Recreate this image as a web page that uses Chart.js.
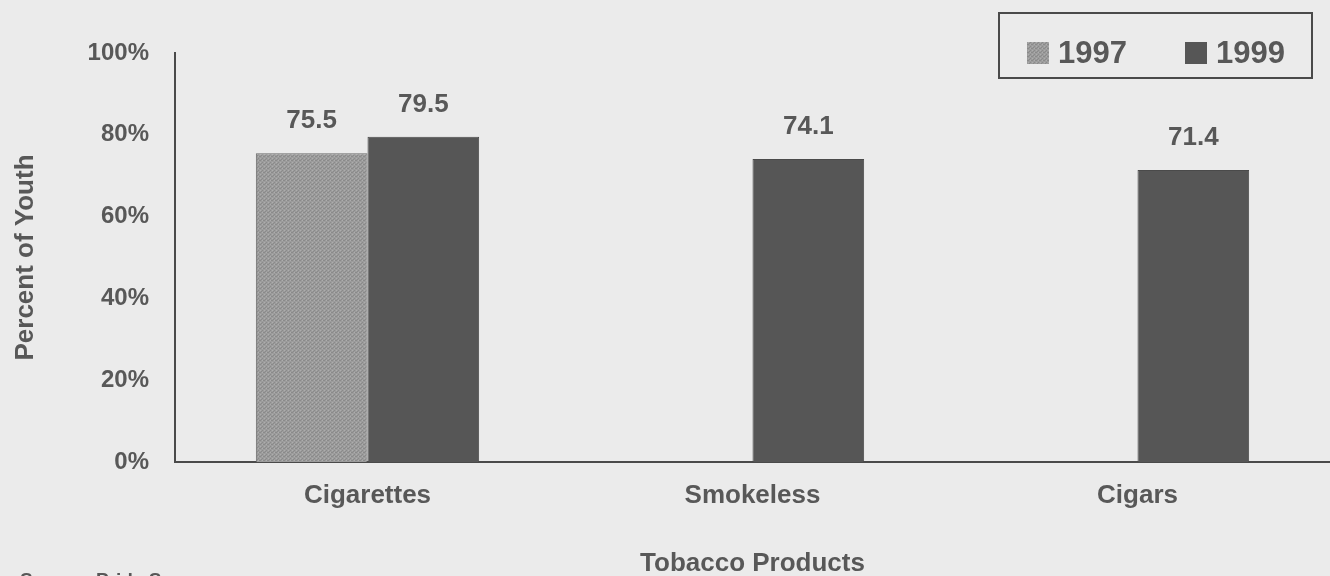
<!DOCTYPE html>
<html>
<head>
<meta charset="utf-8">
<script src="https://cdn.jsdelivr.net/npm/chart.js@4.4.1/dist/chart.umd.min.js"></script>
<style>
  html, body { margin: 0; padding: 0; background: #ebebeb; }
  #wrap { width: 1330px; height: 576px; position: relative; }
</style>
</head>
<body>
<div id="wrap"><canvas id="grafica" width="1330" height="576"></canvas></div>
<script>
// datos
const categorias = ['Cigarettes', 'Smokeless', 'Cigars'];
const valores1997 = [75.5, null, null];
const valores1999 = [79.5, 74.1, 71.4];
const etiquetasY = ['0%', '20%', '40%', '60%', '80%', '100%'];

const fuente = "'Liberation Sans', Arial, sans-serif";
const gris = '#585858';

// textura del gris claro para 1997
function patronPunteado() {
  const c = document.createElement('canvas');
  c.width = 4; c.height = 4;
  const g = c.getContext('2d');
  g.fillStyle = '#9c9c9c';
  g.fillRect(0, 0, 4, 4);
  g.fillStyle = '#8a8a8a';
  g.fillRect(0, 0, 1, 1); g.fillRect(2, 2, 1, 1); g.fillRect(3, 0, 1, 1); g.fillRect(1, 3, 1, 1);
  g.fillStyle = '#adadad';
  g.fillRect(2, 0, 1, 1); g.fillRect(0, 2, 1, 1);
  return g.createPattern(c, 'repeat');
}

// etiquetas encima de las barras
const etiquetasBarras = {
  id: 'etiquetasBarras',
  afterDatasetsDraw(chart) {
    const ctx = chart.ctx;
    ctx.save();
    ctx.font = 'bold 26px ' + fuente;
    ctx.fillStyle = gris;
    ctx.textAlign = 'center';
    ctx.textBaseline = 'middle';
    chart.data.datasets.forEach((ds, i) => {
      chart.getDatasetMeta(i).data.forEach((bar, j) => {
        if (ds.data[j] === null) return;
        ctx.fillText(ds.data[j].toFixed(1), bar.x, bar.y - 32);
      });
    });
    ctx.restore();
  }
};

// leyenda con recuadro, y la fuente cortada abajo
const leyendaCaja = {
  id: 'leyendaCaja',
  afterDraw(chart) {
    const ctx = chart.ctx;
    ctx.save();
    ctx.strokeStyle = '#4a4a4a';
    ctx.lineWidth = 2;
    ctx.strokeRect(999, 13, 313, 65);
    ctx.font = 'bold 31px ' + fuente;
    ctx.textBaseline = 'middle';
    ctx.textAlign = 'left';
    const posX = [1027, 1185];
    chart.data.datasets.forEach((ds, i) => {
      ctx.fillStyle = ds.backgroundColor;
      ctx.fillRect(posX[i], 42, 22, 22);
      ctx.fillStyle = gris;
      ctx.fillText(ds.label, posX[i] + 31, 54);
    });
    ctx.font = 'bold 19px ' + fuente;
    ctx.textBaseline = 'alphabetic';
    ctx.fillStyle = gris;
    ctx.fillText('Source: Pride Surveys', 20, 586);
    ctx.restore();
  }
};

new Chart(document.getElementById('grafica').getContext('2d'), {
  type: 'bar',
  data: {
    labels: categorias,
    datasets: [
      {
        label: '1997',
        data: valores1997,
        backgroundColor: patronPunteado(),
        borderColor: '#6a6a6a',
        borderWidth: 1
      },
      {
        label: '1999',
        data: valores1999,
        backgroundColor: '#565656',
        borderColor: '#4a4a4a',
        borderWidth: 1
      }
    ]
  },
  options: {
    responsive: false,
    animation: false,
    layout: { padding: { top: 53, right: 0, left: 0, bottom: 0 } },
    datasets: { bar: { barPercentage: 1, categoryPercentage: 0.58, skipNull: false } },
    plugins: {
      legend: { display: false },
      tooltip: { enabled: false }
    },
    scales: {
      x: {
        grid: { display: false, drawTicks: false },
        border: { display: true, color: '#4a4a4a', width: 2 },
        ticks: { color: gris, font: { family: fuente, size: 26, weight: 'bold' }, padding: 18 },
        title: {
          display: true,
          text: 'Tobacco Products',
          color: gris,
          font: { family: fuente, size: 26, weight: 'bold' },
          padding: { top: 47, bottom: -3 }
        },
        afterFit: (scale) => { scale.height = 114; }
      },
      y: {
        min: 0,
        max: 100,
        grid: { display: false, drawTicks: false },
        border: { display: true, color: '#4a4a4a', width: 2 },
        ticks: {
          stepSize: 20,
          color: gris,
          padding: 26,
          font: { family: fuente, size: 24, weight: 'bold' },
          callback: (v, i) => etiquetasY[i]
        },
        title: {
          display: true,
          text: 'Percent of Youth',
          color: gris,
          font: { family: fuente, size: 26, weight: 'bold' },
          padding: { top: 10, bottom: 0 }
        },
        afterFit: (scale) => { scale.width = 175; }
      }
    }
  },
  plugins: [etiquetasBarras, leyendaCaja]
});
</script>
</body>
</html>
